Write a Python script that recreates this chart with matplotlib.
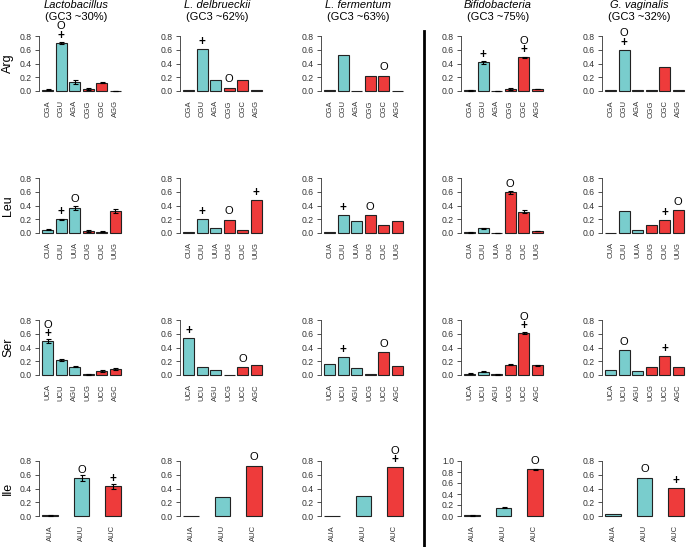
import matplotlib
matplotlib.use("Agg")
import matplotlib.pyplot as plt
from matplotlib.lines import Line2D

plt.rcParams['font.family'] = ['Liberation Sans', 'DejaVu Sans']

species = ["Lactobacillus", "L. delbrueckii", "L. fermentum", "Bifidobacteria", "G. vaginalis"]
gc3 = ["(GC3 ~30%)", "(GC3 ~62%)", "(GC3 ~63%)", "(GC3 ~75%)", "(GC3 ~32%)"]
amino = ["Arg", "Leu", "Ser", "Ile"]

arg_codons = ["CGA", "CGU", "AGA", "CGG", "CGC", "AGG"]
leu_codons = ["CUA", "CUU", "UUA", "CUG", "CUC", "UUG"]
ser_codons = ["UCA", "UCU", "AGU", "UCG", "UCC", "AGC"]
ile_codons = ["AUA", "AUU", "AUC"]

# one list per species, same order as `species`
arg_vals = [[0.02, 0.70, 0.13, 0.03, 0.12, 0.005],
            [0.01, 0.61, 0.16, 0.05, 0.16, 0.01],
            [0.01, 0.53, 0.0, 0.22, 0.22, 0.0],
            [0.01, 0.42, 0.0, 0.03, 0.49, 0.03],
            [0.02, 0.60, 0.01, 0.01, 0.35, 0.01]]
leu_vals = [[0.05, 0.20, 0.37, 0.03, 0.02, 0.32],
            [0.01, 0.21, 0.08, 0.19, 0.04, 0.48],
            [0.01, 0.26, 0.18, 0.26, 0.12, 0.17],
            [0.01, 0.07, 0.0, 0.59, 0.31, 0.03],
            [0.0, 0.32, 0.05, 0.11, 0.19, 0.33]]
ser_vals = [[0.49, 0.22, 0.12, 0.01, 0.06, 0.09],
            [0.54, 0.12, 0.07, 0.0, 0.11, 0.15],
            [0.16, 0.26, 0.10, 0.02, 0.33, 0.13],
            [0.02, 0.05, 0.01, 0.15, 0.61, 0.14],
            [0.07, 0.36, 0.06, 0.11, 0.28, 0.12]]
ile_vals = [[0.01, 0.55, 0.43],
            [0.0, 0.27, 0.73],
            [0.0, 0.29, 0.71],
            [0.01, 0.15, 0.85],
            [0.03, 0.56, 0.41]]

# error bars (only Lactobacillus and Bifidobacteria have replicates)
arg_err = [[0.005, 0.02, 0.03, 0.01, 0.01, 0.0], None, None,
           [0.005, 0.02, 0.003, 0.01, 0.01, 0.005], None]
leu_err = [[0.01, 0.01, 0.03, 0.01, 0.005, 0.03], None, None,
           [0.003, 0.005, 0.002, 0.02, 0.02, 0.005], None]
ser_err = [[0.03, 0.01, 0.01, 0.005, 0.01, 0.01], None, None,
           [0.005, 0.005, 0.003, 0.01, 0.01, 0.01], None]
ile_err = [[0.005, 0.04, 0.04], None, None, [0.003, 0.01, 0.01], None]

# "+" / "O" annotations above bars
arg_marks = [["", "+O", "", "", "", ""], ["", "+", "", "O", "", ""],
             ["", "", "", "", "O", ""], ["", "+", "", "", "+O", ""],
             ["", "+O", "", "", "", ""]]
leu_marks = [["", "+", "O", "", "", ""], ["", "+", "", "O", "", "+"],
             ["", "+", "", "O", "", ""], ["", "", "", "O", "", ""],
             ["", "", "", "", "+", "O"]]
ser_marks = [["+O", "", "", "", "", ""], ["+", "", "", "", "O", ""],
             ["", "+", "", "", "O", ""], ["", "", "", "", "+O", ""],
             ["", "O", "", "", "+", ""]]
ile_marks = [["", "O", "+"], ["", "", "O"], ["", "", "+O"],
             ["", "", "O"], ["", "O", "+"]]

codons = [arg_codons, leu_codons, ser_codons, ile_codons]
values = [arg_vals, leu_vals, ser_vals, ile_vals]
errors = [arg_err, leu_err, ser_err, ile_err]
marks = [arg_marks, leu_marks, ser_marks, ile_marks]

CYAN = "#79CDCD"
RED = "#EE3B3B"
W, H = 686, 547
col_left = [39, 180, 321, 461, 602]
row_base = [91, 233, 375, 516]
ax_w, ax_h = 85, 55

fig = plt.figure(figsize=(W / 100, H / 100), dpi=100)

for r in range(4):
    cods = codons[r]
    n = len(cods)
    space = 0.2 if n > 3 else 1.0
    lefts = [space + i * (1 + space) for i in range(n)]
    centers = [x + 0.5 for x in lefts]
    lo, hi = lefts[0], lefts[-1] + 1
    pad = 0.04 * (hi - lo)
    cols = [CYAN if c[-1] in "AU" else RED for c in cods]

    for c in range(5):
        vals = values[r][c]
        err = errors[r][c]
        ymax = 1.0 if max(vals) > 0.8 else 0.8
        ax = fig.add_axes([col_left[c] / W, 1 - row_base[r] / H, ax_w / W, ax_h / H])
        ax.bar(centers, vals, width=1, color=cols, edgecolor="#222222",
               linewidth=0.8, clip_on=False)
        if err is not None:
            ax.errorbar(centers, vals, yerr=err, fmt="none", ecolor="black",
                        elinewidth=0.8, capsize=1.8, capthick=0.8, clip_on=False)
        for i, m in enumerate(marks[r][c]):
            # glyph centre ~9 px above the bar, stacked symbols 9.5 px apart
            off_px = 9.5 if m == "O" else 8
            for ch in m:
                if ch == "+":
                    ax.annotate(ch, (centers[i], vals[i]), xytext=(0, (off_px - 4) * 0.72),
                                textcoords="offset points", ha="center", va="baseline",
                                fontsize=8.5, fontweight="bold")
                else:
                    ax.annotate(ch, (centers[i], vals[i]), xytext=(0, (off_px - 4) * 0.72),
                                textcoords="offset points", ha="center", va="baseline",
                                fontsize=8)
                off_px += 9.5
        ax.set_xlim(lo - pad, hi + pad)
        ax.set_ylim(0, ymax)
        ticks = [0.0, 0.2, 0.4, 0.6, 0.8] + ([1.0] if ymax > 0.8 else [])
        ax.set_yticks(ticks, ["%.1f" % t for t in ticks])
        ax.set_xticks(centers, cods, rotation=90)
        ax.tick_params(axis="y", labelsize=6.2, length=3, width=0.6,
                       colors="#333333", pad=2)
        ax.tick_params(axis="x", labelsize=5.5, length=0, pad=6.5,
                       colors="#333333")
        for s in ["top", "right", "bottom"]:
            ax.spines[s].set_visible(False)
        ax.spines["left"].set_linewidth(0.6)
        ax.spines["left"].set_color("#333333")
        ax.patch.set_alpha(0)

    fig.text(8 / W, 1 - (row_base[r] - ax_h / 2) / H, amino[r], rotation=90,
             ha="center", va="center", fontsize=9)

for c in range(5):
    cx = (col_left[c] + 37) / W
    fig.text(cx, 1 - 8.5 / H, species[c], ha="center", va="baseline",
             fontsize=8, style="italic")
    fig.text(cx, 1 - 20 / H, gc3[c], ha="center", va="baseline", fontsize=8)

fig.add_artist(Line2D([424 / W, 424 / W], [0, 1 - 31 / H], color="black",
                      linewidth=2))

fig.savefig("out.png", dpi=100)
